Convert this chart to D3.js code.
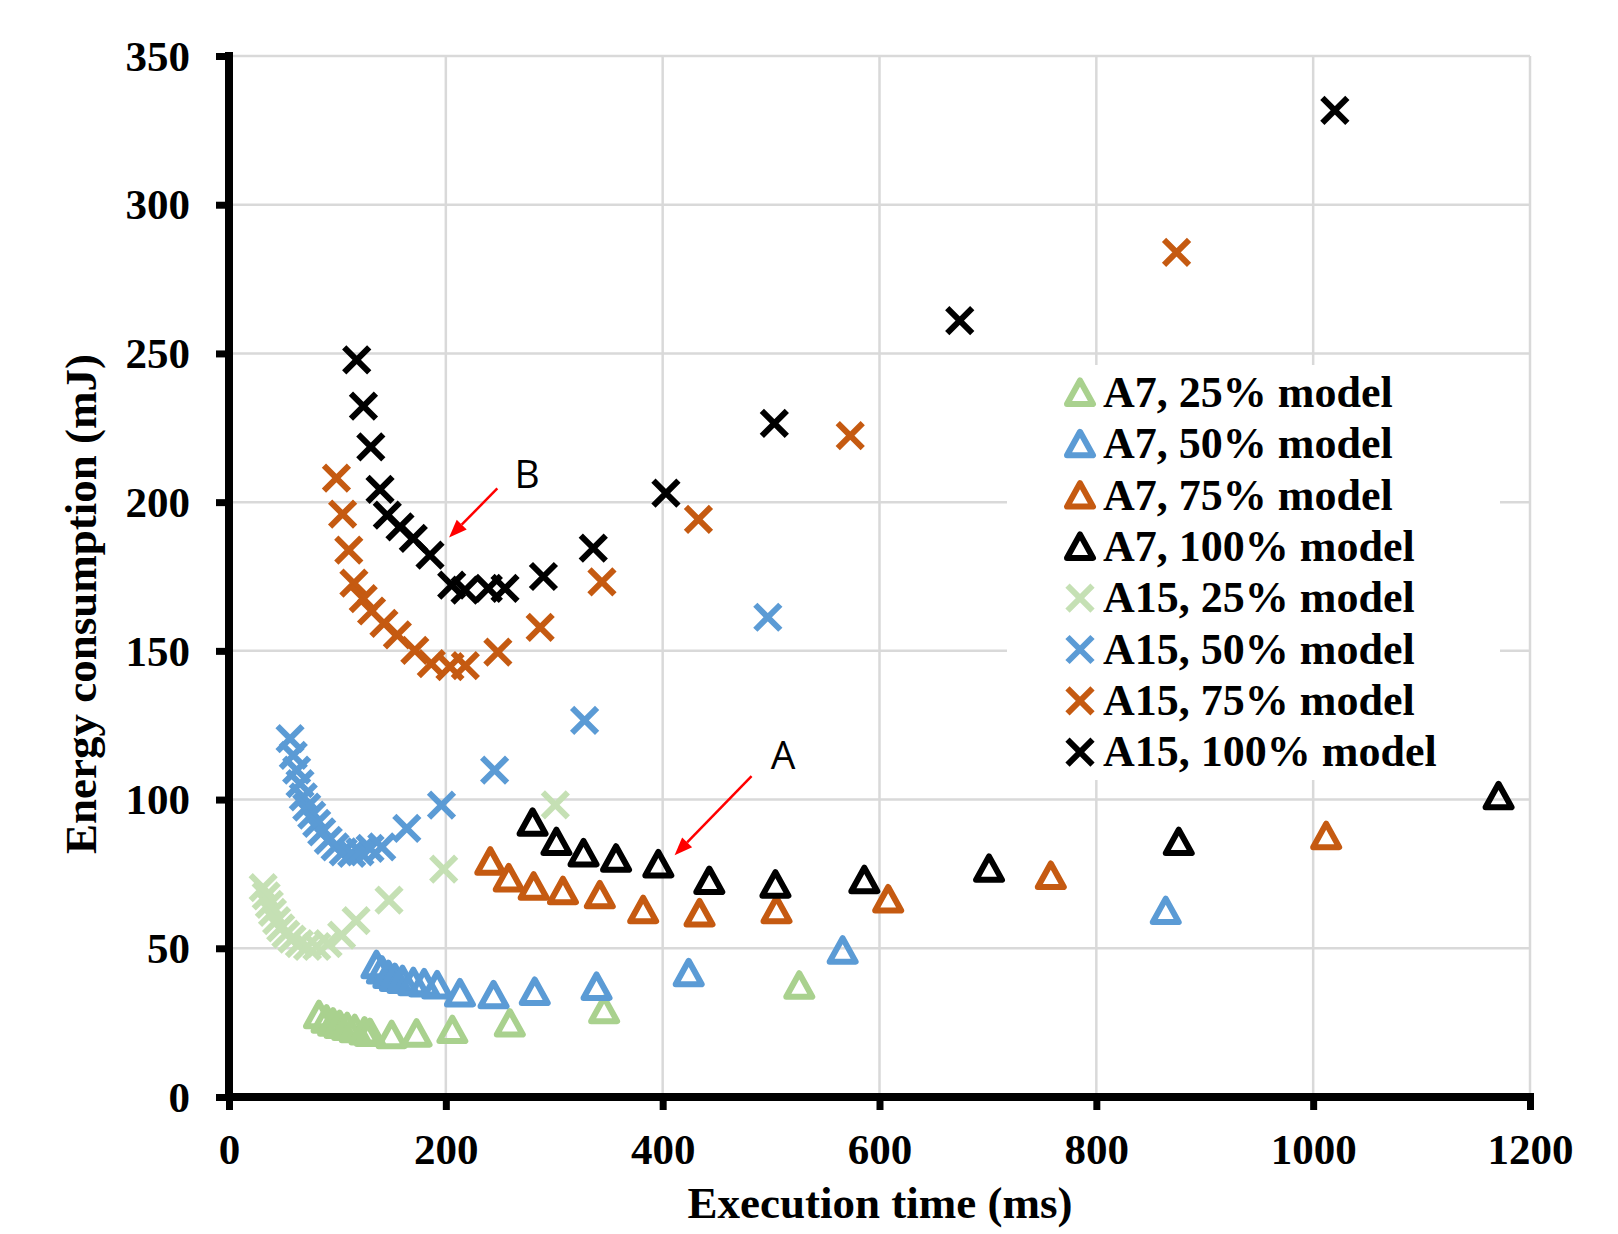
<!doctype html>
<html lang="en">
<head>
<meta charset="UTF-8">
<title>Energy vs execution time</title>
<style type="text/css">
body {
  margin: 0;
  padding: 0;
  background: #fff;
}
text {
  font-family: 'Liberation Serif', 'Times New Roman', serif;
  font-weight: bold;
}
</style>
<script type="text/javascript" src="https://d3js.org/d3.v7.min.js"></script>
</head>
<body>
<div id="chart"></div>
<script type="text/javascript">

// values: [execution time ms, energy mJ]
var a7_25 = [[83,27.5],[90,26],[96,25],[102,24.2],[109,23.5],[116,22.8],[125,22],[130,21.5],[150,20.8],[173,21.3],[206,22.5],[259,24.7],[346,29.2],[526,37.4]];
var a7_50 = [[136,44.3],[141,42.5],[147,41],[153,40],[160,39.3],[170,38.6],[180,38.2],[192,37.5],[213,34.8],[244,34.2],[282,35.3],[339,37],[424,41.6],[566,49.2],[864,62.5]];
var a7_75 = [[241,79.1],[258,73.5],[281,70.7],[308,69.2],[342,67.8],[382,62.8],[434,61.7],[505,62.8],[608,66.4],[758,74.3],[1012,87.7]];
var a7_100 = [[280,92.2],[302,85.7],[327,81.9],[357,80.1],[396,78.2],[443,72.6],[504,71.4],[586,72.9],[701,76.7],[876,85.7],[1171,101.1]];
var a15_25 = [[31.5,70.4],[34.3,67.6],[37.2,64.8],[40.1,62.1],[43.9,59.3],[47.7,56.9],[52.4,54.8],[58.1,53.1],[64.9,51.6],[72.4,50.6],[81,50.6],[91.4,51.6],[103.9,54.4],[117.2,59.3],[147.6,66.2],[198,76.6],[301,98.2]];
var a15_50 = [[56.3,120.5],[59.3,114.9],[62.4,109.9],[65.5,105.4],[68.5,100.9],[71.7,97.5],[76.3,94.8],[80.9,92],[85.5,89.1],[91.6,86.3],[97.8,84.1],[105.4,82.4],[113.2,81.9],[120.8,82.4],[130.1,83.6],[140.9,84.1],[164,90.3],[196,98.1],[245,109.9],[328,126.6],[497,161.3]];
var a15_75 = [[99.1,208.1],[104.8,196],[110.5,183.9],[115.2,172.8],[123.8,167.6],[131.5,163.4],[142.9,159.2],[155.3,155.4],[171.4,150.2],[186.6,145.7],[203.8,144.7],[218,145],[248,149.6],[287,157.9],[344,173.2],[433,194.2],[573,222.4],[874,284]];
var a15_100 = [[117.8,247.8],[124,232.3],[130.8,218.6],[139.3,204.3],[146,195.6],[157.7,191.7],[170,187.8],[185.4,182.2],[205.4,172.1],[217.7,170.4],[239.2,171],[254.6,171],[290,175],[336,184.5],[403,203],[503,226.5],[674,261],[1020,331.7]];

var seriesNames = ['A7, 25% model', 'A7, 50% model', 'A7, 75% model', 'A7, 100% model',
                   'A15, 25% model', 'A15, 50% model', 'A15, 75% model', 'A15, 100% model'];
var seriesData = [a7_25, a7_50, a7_75, a7_100, a15_25, a15_50, a15_75, a15_100];
var seriesColors = ['#A9D18E', '#5B9BD5', '#C55A11', '#000000', '#C5E0B4', '#5B9BD5', '#C55A11', '#000000'];
var seriesShapes = ['tri', 'tri', 'tri', 'tri', 'x', 'x', 'x', 'x'];

var xTicks = [0, 200, 400, 600, 800, 1000, 1200];
var yTicks = [0, 50, 100, 150, 200, 250, 300, 350];

// annotations: label, label position, arrow start, arrow tip (data units)
var notes = [
  { label: 'A', at: [511, 110.2], from: [482, 107.9], to: [411, 81.3] },
  { label: 'B', at: [275, 204.7], from: [247.5, 204.6], to: [203, 188.1] }
];

var W = 1618, H = 1234;

var svg = d3.select('#chart').append('svg')
  .attr('width', W)
  .attr('height', H);

var x = d3.scaleLinear().domain([0, 1200]).range([229, 1530]);
var y = d3.scaleLinear().domain([0, 350]).range([1097, 56]);

// grid
svg.append('g').selectAll('line.vg').data(xTicks.slice(1)).enter()
  .append('line')
  .attr('x1', function(d) { return x(d); })
  .attr('x2', function(d) { return x(d); })
  .attr('y1', y(350))
  .attr('y2', y(0))
  .attr('stroke', '#d9d9d9')
  .attr('stroke-width', 2.5);

svg.append('g').selectAll('line.hg').data(yTicks.slice(1)).enter()
  .append('line')
  .attr('x1', x(0))
  .attr('x2', x(1200))
  .attr('y1', function(d) { return y(d); })
  .attr('y2', function(d) { return y(d); })
  .attr('stroke', '#d9d9d9')
  .attr('stroke-width', 2.5);

function triPath() {
  return 'M0,-12.5L13,11L-13,11Z';
}
function xPath() {
  var s = 12.5;
  return 'M' + (-s) + ',' + (-s) + 'L' + s + ',' + s + 'M' + (-s) + ',' + s + 'L' + s + ',' + (-s);
}

function drawMarker(g, shape, color) {
  g.append('path')
    .attr('d', shape == 'tri' ? triPath() : xPath())
    .attr('fill', 'none')
    .attr('stroke', color)
    .attr('stroke-width', 6)
    .attr('stroke-linejoin', shape == 'tri' ? 'round' : 'miter')
    .attr('stroke-linecap', 'butt');
}

// crosses first, triangles on top
var order = [4, 5, 6, 7, 0, 1, 2, 3];
var points = svg.append('g');
order.forEach(function(si) {
  seriesData[si].forEach(function(p) {
    var g = points.append('g')
      .attr('transform', 'translate(' + x(p[0]) + ',' + y(p[1]) + ')');
    drawMarker(g, seriesShapes[si], seriesColors[si]);
  });
});

// axes
var yAxis = d3.axisLeft(y).tickValues(yTicks).tickFormat(d3.format('d'))
  .tickSize(13).tickSizeOuter(0).tickPadding(26);
var xAxis = d3.axisBottom(x).tickValues(xTicks).tickFormat(d3.format('d'))
  .tickSize(13).tickSizeOuter(0).tickPadding(23);

var gy = svg.append('g').attr('transform', 'translate(' + x(0) + ',0)').call(yAxis);
var gx = svg.append('g').attr('transform', 'translate(0,' + y(0) + ')').call(xAxis);

[gx, gy].forEach(function(g) {
  g.select('.domain').attr('stroke', '#000').attr('stroke-width', 8);
  g.selectAll('.tick line').attr('stroke', '#000').attr('stroke-width', 7);
  g.selectAll('.tick text')
    .attr('fill', '#000')
    .style('font-family', "'Liberation Serif', serif")
    .style('font-weight', 'bold')
    .style('font-size', '43px');
});
gy.select('.domain').attr('d', 'M0,' + (y(350) - 4) + 'V' + (y(0) + 4));
gx.select('.domain').attr('d', 'M' + (x(0) - 4) + ',0H' + (x(1200) + 4));
gy.selectAll('.tick text').attr('dy', '0.33em');

// axis titles
svg.append('text')
  .attr('x', 880)
  .attr('y', 1218)
  .attr('text-anchor', 'middle')
  .style('font-size', '45px')
  .text('Execution time (ms)');

svg.append('text')
  .attr('transform', 'translate(96,604) rotate(-90)')
  .attr('text-anchor', 'middle')
  .style('font-size', '45px')
  .text('Energy consumption (mJ)');

// annotations
notes.forEach(function(n) {
  var x1 = x(n.from[0]), y1 = y(n.from[1]);
  var x2 = x(n.to[0]), y2 = y(n.to[1]);
  var a = Math.atan2(y2 - y1, x2 - x1);
  var len = 18, half = 7;
  var bx = x2 - len * Math.cos(a), by = y2 - len * Math.sin(a);
  svg.append('line')
    .attr('x1', x1).attr('y1', y1)
    .attr('x2', bx).attr('y2', by)
    .attr('stroke', '#ff0000')
    .attr('stroke-width', 2.5);
  svg.append('polygon')
    .attr('points', [
      [x2, y2],
      [bx + half * Math.sin(a), by - half * Math.cos(a)],
      [bx - half * Math.sin(a), by + half * Math.cos(a)]
    ].map(function(p) { return p.join(','); }).join(' '))
    .attr('fill', '#ff0000');
  svg.append('text')
    .attr('x', x(n.at[0]))
    .attr('y', y(n.at[1]))
    .attr('text-anchor', 'middle')
    .style('font-family', "'Open Sans', sans-serif")
    .style('font-weight', 'normal')
    .style('font-size', '39px')
    .text(n.label);
});

// legend
var legend = svg.append('g');
legend.append('rect')
  .attr('x', 1007)
  .attr('y', 365)
  .attr('width', 493)
  .attr('height', 415)
  .attr('fill', '#fff');

seriesNames.forEach(function(name, i) {
  var cy = 393 + i * 51.3;
  var g = legend.append('g').attr('transform', 'translate(1080,' + cy + ')');
  drawMarker(g, seriesShapes[i], seriesColors[i]);
  legend.append('text')
    .attr('x', 1103)
    .attr('y', cy + 14)
    .style('font-size', '44px')
    .text(name);
});

</script>
</body>
</html>
